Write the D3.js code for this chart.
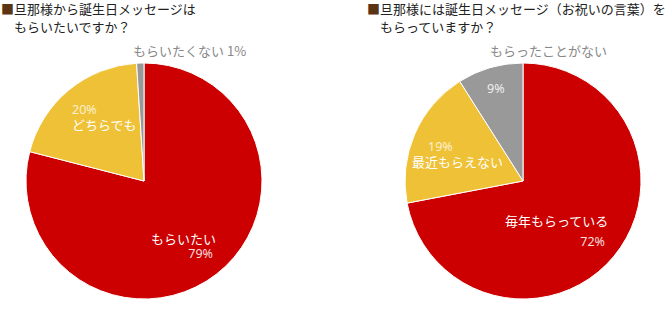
<!DOCTYPE html>
<meta charset='utf-8'>
<title>誕生日メッセージ</title>
<style>
body {
  margin: 0;
  background-color: #fff;
}
text {
  font-family: "Noto Sans CJK JP", "Noto Sans", sans-serif;
}
text.pct {
  font-family: "Noto Sans", "DejaVu Sans", sans-serif;
}
</style>
<svg width="667" height="332"></svg>
<script src="https://d3js.org/d3.v7.min.js"></script>
<script>

// Chart 1: want a message?
var want_labels = ["もらいたい", "どちらでも", "もらいたくない"];
var want_values = [79, 20, 1];

// Chart 2: do you get one?
var get_labels = ["毎年もらっている", "最近もらえない", "もらったことがない"];
var get_values = [72, 19, 9];

var titles = [
  ["旦那様から誕生日メッセージは", "もらいたいですか？"],
  ["旦那様には誕生日メッセージ（お祝いの言葉）を", "もらっていますか？"]
];

var colors = ["#cc0000", "#efc136", "#999999"];

var svg = d3.select("svg");

var pie = d3.pie().sort(null).value(function(d) { return d; });
var arc = d3.arc().innerRadius(0).outerRadius(118);

function drawPie(cx, cy, values) {
  var g = svg.append("g").attr("transform", "translate(" + cx + "," + cy + ")");
  g.selectAll("path")
      .data(pie(values))
    .enter().append("path")
      .attr("d", arc)
      .attr("fill", function(d, i) { return colors[i]; })
      .attr("stroke", "#fff")
      .attr("stroke-width", 1);
  return g;
}

function drawTitle(x, y, lines) {
  var t = svg.append("text")
      .attr("x", x)
      .attr("y", y)
      .attr("font-size", 13)
      .attr("fill", "#222");
  t.append("tspan").attr("fill", "#5a3413").text("■");
  t.append("tspan").text(lines[0]);
  svg.append("text")
      .attr("x", x + 13)
      .attr("y", y + 18)
      .attr("font-size", 13)
      .attr("fill", "#222")
      .text(lines[1]);
}

function label(g, x, y, txt, size, fill, anchor, cls) {
  g.append("text")
      .attr("class", cls || null)
      .attr("x", x)
      .attr("y", y)
      .attr("font-size", size)
      .attr("fill", fill)
      .attr("text-anchor", anchor || "start")
      .text(txt);
}

drawTitle(1, 14, titles[0]);
drawTitle(367, 14, titles[1]);

// left pie
var g1 = drawPie(144, 181, want_values);
label(g1, 7, 63, want_labels[0], 13, "#fff");
label(g1, 69, 77, want_values[0] + "%", 12.5, "#f6dede", "end", "pct");
label(g1, -72, -67, want_values[1] + "%", 12.5, "#fbf0d0", null, "pct");
label(g1, -72, -51, want_labels[1], 13, "#fff");
label(g1, -11, -125, want_labels[2] + " " + want_values[2] + "%", 13, "#888");

// right pie
var g2 = drawPie(523, 181, get_values);
label(g2, -18, 45, get_labels[0], 13, "#fff");
label(g2, 82, 65, get_values[0] + "%", 12.5, "#f6dede", "end", "pct");
label(g2, -95, -30, get_values[1] + "%", 12.5, "#fbf0d0", null, "pct");
label(g2, -111, -14, get_labels[1], 13, "#fff");
label(g2, -36, -88, get_values[2] + "%", 12.5, "#eee", null, "pct");
label(g2, -33, -125, get_labels[2], 13, "#888");

</script>
